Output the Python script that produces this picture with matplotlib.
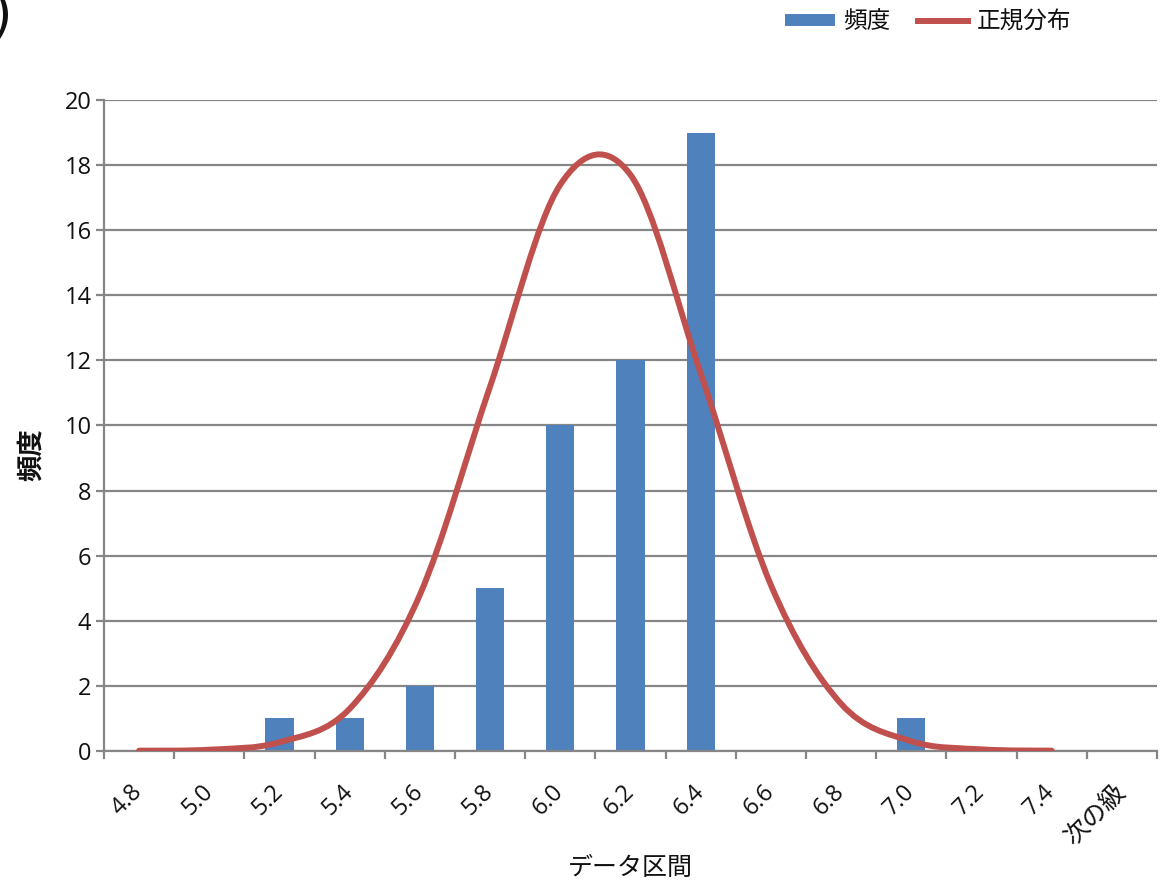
import numpy as np
import matplotlib
matplotlib.use("Agg")
import matplotlib.pyplot as plt
from matplotlib.path import Path
from matplotlib.patches import PathPatch, Patch
from matplotlib.lines import Line2D

# Histogram bins (upper bounds) and counts
bins = ["4.8", "5.0", "5.2", "5.4", "5.6", "5.8", "6.0", "6.2", "6.4",
        "6.6", "6.8", "7.0", "7.2", "7.4", "次の級"]
freq = [0, 0, 1, 1, 2, 5, 10, 12, 19, 0, 0, 1, 0, 0, 0]

# Expected counts under the fitted normal distribution (bins 4.8 .. 7.4)
normal_fit = [0.01, 0.04, 0.27, 1.3, 4.8, 11.2, 17.4, 17.7, 11.6,
              5.1, 1.45, 0.3, 0.05, 0.01]

yticks = [0, 2, 4, 6, 8, 10, 12, 14, 16, 18, 20]

BAR_COLOR = "#4F81BD"
LINE_COLOR = "#C0504D"
GRID_COLOR = "#868686"
TEXT_COLOR = "#111111"

plt.rcParams["font.family"] = ["Open Sans", "Noto Sans CJK JP", "DejaVu Sans"]
CJK = ["Noto Sans CJK JP", "DejaVu Sans"]

fig = plt.figure(figsize=(11.6, 8.84), dpi=100)
ax = fig.add_axes([104 / 1160, 1 - 751 / 884, (1157 - 104) / 1160, (751 - 100) / 884])

x = np.arange(len(bins))
ax.bar(x, freq, width=0.4, color=BAR_COLOR, zorder=2)


def smooth_path(px, py):
    """Cubic Bezier path through the points (Excel-style smoothed line)."""
    pts = np.column_stack([px, py]).astype(float)
    n = len(pts)
    verts = [pts[0]]
    codes = [Path.MOVETO]
    for i in range(n - 1):
        p0 = pts[i - 1] if i > 0 else pts[i]
        p1 = pts[i]
        p2 = pts[i + 1]
        p3 = pts[i + 2] if i + 2 < n else pts[i + 1]
        c1 = p1 + (p2 - p0) / 6.0
        c2 = p2 - (p3 - p1) / 6.0
        verts += [c1, c2, p2]
        codes += [Path.CURVE4] * 3
    return Path(verts, codes)


curve_x = np.arange(len(normal_fit))
ax.add_patch(PathPatch(smooth_path(curve_x, normal_fit), fill=False,
                       edgecolor=LINE_COLOR, lw=4.3, capstyle="round",
                       joinstyle="round", zorder=3))

ax.set_xlim(-0.5, len(bins) - 0.5)
ax.set_ylim(0, 20)

# Axes styling
for side in ("top", "right"):
    ax.spines[side].set_visible(False)
for side in ("left", "bottom"):
    ax.spines[side].set_color(GRID_COLOR)
    ax.spines[side].set_linewidth(1.6)

ax.set_yticks(yticks)
ax.set_yticklabels([str(v) for v in yticks])
ax.yaxis.grid(True, color=GRID_COLOR, lw=1.6, zorder=0)
ax.set_axisbelow(True)
ax.tick_params(axis="y", direction="out", length=6, width=1.6,
               color=GRID_COLOR, pad=3, labelsize=17, labelcolor=TEXT_COLOR)

# Category labels at bin centres, tick marks at bin boundaries
ax.set_xticks(x)
ax.set_xticklabels(bins)
ax.set_xticks(np.arange(len(bins) + 1) - 0.5, minor=True)
ax.tick_params(axis="x", which="major", length=0, pad=27,
               labelsize=17, labelcolor=TEXT_COLOR)
ax.tick_params(axis="x", which="minor", direction="out", length=6,
               width=1.6, color=GRID_COLOR)
for lbl in ax.get_xticklabels():
    lbl.set_rotation(45)
    lbl.set_rotation_mode("anchor")
    lbl.set_ha("right")
    lbl.set_va("center")
    if not lbl.get_text().replace(".", "").isdigit():
        lbl.set_family(CJK)
        lbl.set_fontsize(18)

ax.set_ylabel("頻度", family=CJK, fontsize=19, fontweight="bold",
              color=TEXT_COLOR)
ax.yaxis.label.set_va("center")
ax.yaxis.set_label_coords(-0.069, 0.455)
ax.set_xlabel("データ区間", family=CJK, fontsize=18, color=TEXT_COLOR)
ax.xaxis.label.set_va("center")
ax.xaxis.set_label_coords(0.5, -0.18)

handles = [Patch(facecolor=BAR_COLOR, edgecolor="none", label="頻度"),
           Line2D([], [], color=LINE_COLOR, lw=4.3, label="正規分布")]
fig.legend(handles=handles, loc="center left",
           bbox_to_anchor=(785 / 1160, 1 - 22 / 884), ncol=2, frameon=False,
           prop={"family": CJK, "size": 17}, handlelength=2.1,
           handleheight=0.45, handletextpad=0.35, columnspacing=1.2,
           borderpad=0, borderaxespad=0, labelcolor=TEXT_COLOR)

fig.text(12 / 1160, 1 - 16 / 884, ")", fontsize=38, ha="right", va="center",
         family="DejaVu Sans", color="#111111")

fig.savefig("out.png", dpi=100, facecolor="white")
